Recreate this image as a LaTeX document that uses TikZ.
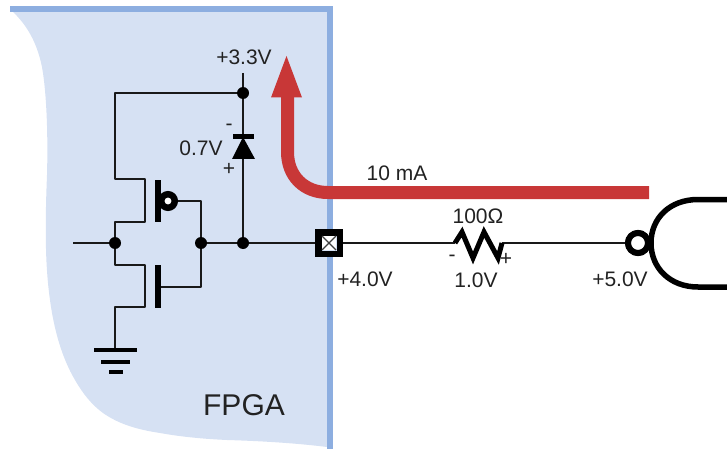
\documentclass[tikz,border=0pt]{standalone}
\usepackage{fontspec}
\setmainfont{Liberation Sans}
\usetikzlibrary{calc}
\definecolor{fpgafill}{HTML}{D6E1F3}
\definecolor{fpgaline}{HTML}{8DAEE0}
\definecolor{redarrow}{HTML}{C83737}
\definecolor{labelgrey}{HTML}{222222}
\tikzset{
  wire/.style={draw=black!90,line width=2pt,line join=round},
  thick bar/.style={draw=black,line width=6pt},
  junction/.style={circle,fill=black,inner sep=0pt,minimum size=12pt},
  label text/.style={font=\fontsize{21}{23}\selectfont,text=labelgrey,inner sep=0pt},
  ring/.style={circle,draw=black,fill=white,inner sep=0pt},
}
\begin{document}
\begin{tikzpicture}[x=1pt,y=-1pt,line cap=butt]
\useasboundingbox (0,0) rectangle (727,449);
% FPGA body
\fill[fpgafill] (10,9) .. controls (24,22) and (36,38) .. (42,67)
  .. controls (47,95) and (48,140) .. (47,175)
  .. controls (45,225) and (45,265) .. (50,300)
  .. controls (54,330) and (62,358) .. (75,380)
  .. controls (83,394) and (92,405) .. (103,413)
  .. controls (120,425) and (140,430) .. (160,433)
  .. controls (182,437) and (205,439) .. (227,440)
  .. controls (260,441) and (295,443) .. (327,447) -- (330,9) -- cycle;
\draw[fpgaline,line width=6pt] (10,9) -- (330,9) -- (330,449);
% coordinates and nodes
\node[junction] (jd) at (243,93) {};
\node[junction] (ja) at (115,243) {};
\node[junction] (jb) at (201,243) {};
\node[junction] (jc) at (243,243) {};
\coordinate (in) at (73,243);
\coordinate (vcc) at (243,73);
\coordinate (gnd) at (115,350);
\node[draw=black,line width=6.5pt,fill=fpgafill,minimum size=21.5pt,inner sep=0pt] (pad) at (329,243) {};
\coordinate (rl) at (455,243);
\coordinate (rr) at (502,243);
\node[ring,line width=6pt,minimum size=20pt] (bub) at (638,243) {};
\node[ring,line width=6.5pt,minimum size=13.5pt] (pbub) at (168,201) {};
% pad interior
\fill[white] (322,236) rectangle (336,250);
\draw[black!75,line width=1.2pt] (322,236) -- (336,250) (336,236) -- (322,250);
% wires
\draw[wire] (in) -- (ja);
\draw[wire] (jd) -- (115,93) -- (115,179) -- (145,179) -- (145,222) -- (115,222) -- (ja);
\draw[wire] (ja) -- (115,265) -- (145,265) -- (145,307) -- (115,307) -- (gnd);
\draw[wire] (pbub) -- (201,201) -- (jb);
\draw[wire] (jb) -- (201,287) -- (158,287);
\draw[wire] (jb) -- (jc);
\draw[wire] (jc) -- (pad);
\draw[wire] (vcc) -- (jd);
\draw[wire] (jd) -- (243,137);
\draw[wire] (243,159) -- (jc);
\draw[wire] (pad) -- (rl);
\draw[wire] (rr) -- (bub);
% transistor gates
\draw[thick bar] (158,180) -- (158,222);
\draw[thick bar] (158,265) -- (158,308);
% ground
\draw[draw=black,line width=4.5pt] (94,350) -- (137,350);
\draw[draw=black,line width=4.5pt] (101,362) -- (130,362);
\draw[draw=black,line width=4.5pt] (109,372) -- (123,372);
% diode
\fill[black] (243,137) -- (255,159) -- (232,159) -- cycle;
\draw[draw=black,line width=5pt] (233,137) -- (254,137);
% resistor
\draw[draw=black,line width=5pt,line join=miter,miter limit=4] (rl) -- (462,232) -- (473,258) -- (484,232) -- (498,258) -- (rr);
% gate outline
\draw[draw=black,line width=5.5pt] (727,199.5) -- (698,199.5)
  .. controls (670,199.5) and (651,218) .. (651,243)
  .. controls (651,268) and (670,287) .. (698,287) -- (727,287);
\node[ring,line width=6pt,minimum size=20pt] at (bub) {};
% red current arrow
\draw[redarrow,line width=13pt] (649,192.5) -- (328,192.5)
  .. controls (304,192.5) and (287.5,176) .. (287.5,152) -- (287.5,95);
\fill[redarrow] (286.5,56) -- (302,97.5) -- (271,97.5) -- cycle;
% labels
\node[label text] (t33) at (244,57) {+3.3V};
\node[label text] (t07) at (201,148) {0.7V};
\node[label text] (tm) at (229,127) {-};
\node[label text] (tp) at (229,169) {+};
\node[label text] (tma) at (397,173) {10 mA};
\node[label text] (t40) at (365,279) {+4.0V};
\node[label text] (t100) at (478,216) {100Ω};
\node[label text] (rm) at (452,258) {-};
\node[label text] (rp) at (506,259) {+};
\node[label text] (t10) at (476,280) {1.0V};
\node[label text] (t50) at (620,279) {+5.0V};
\node[font=\fontsize{30}{32}\selectfont,text=labelgrey,inner sep=0pt] (fpga) at (244,405) {FPGA};
\end{tikzpicture}
\end{document}
